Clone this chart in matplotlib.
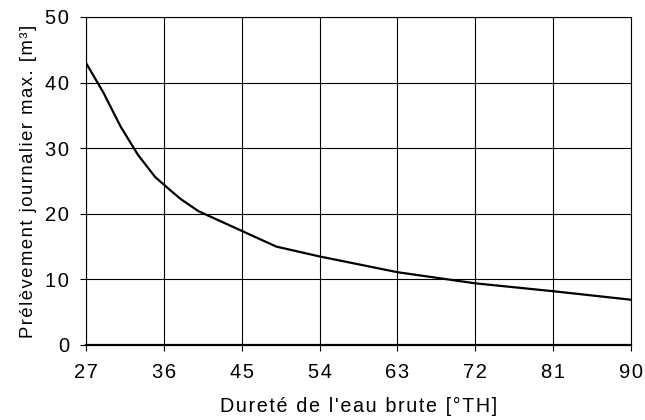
import matplotlib
matplotlib.use('Agg')
import matplotlib.pyplot as plt

plt.rcParams['font.family'] = ['Liberation Sans', 'DejaVu Sans']

# valeurs
durete = [27, 29, 31, 33, 35, 37, 38, 40, 45, 49, 54, 63, 72, 81, 90]
prelevement = [43.0, 38.5, 33.3, 29.0, 25.6, 23.3, 22.2, 20.4, 17.4, 15.0, 13.5, 11.1, 9.4, 8.2, 6.9]

xticks = [27, 36, 45, 54, 63, 72, 81, 90]
yticks = [0, 10, 20, 30, 40, 50]


def espace(txt, sep):
    # simule l'espacement des lettres
    return sep.join(txt)


fig = plt.figure(figsize=(6.45, 4.2), dpi=100)
ax = fig.add_axes([86 / 645, 75 / 420, 545 / 645, 328 / 420])

ax.plot(durete, prelevement, color='black', lw=1.6)

ax.set_xlim(27, 90)
ax.set_ylim(0, 50)
ax.set_xticks(xticks)
ax.set_yticks(yticks)
ax.set_xticklabels([espace(str(t), '\u200a') for t in xticks])
ax.set_yticklabels([espace(str(t), '\u200a') for t in yticks])
ax.grid(True, color='black', lw=0.8)
ax.tick_params(direction='out', length=4, width=0.8, labelsize=14.5, color='black')
ax.tick_params(axis='x', pad=9)
ax.tick_params(axis='y', pad=8)
for side in ['top', 'right', 'left']:
    ax.spines[side].set_linewidth(0.8)
ax.spines['bottom'].set_linewidth(1.6)

ax.set_xlabel(espace("Dureté de l'eau brute [°TH]", '\u200a'), fontsize=14.2, labelpad=11)
ax.set_ylabel(espace("Prélèvement journalier max. [m³]", '\u200a'), fontsize=13.3, labelpad=6)

fig.savefig('out.png', dpi=100)
